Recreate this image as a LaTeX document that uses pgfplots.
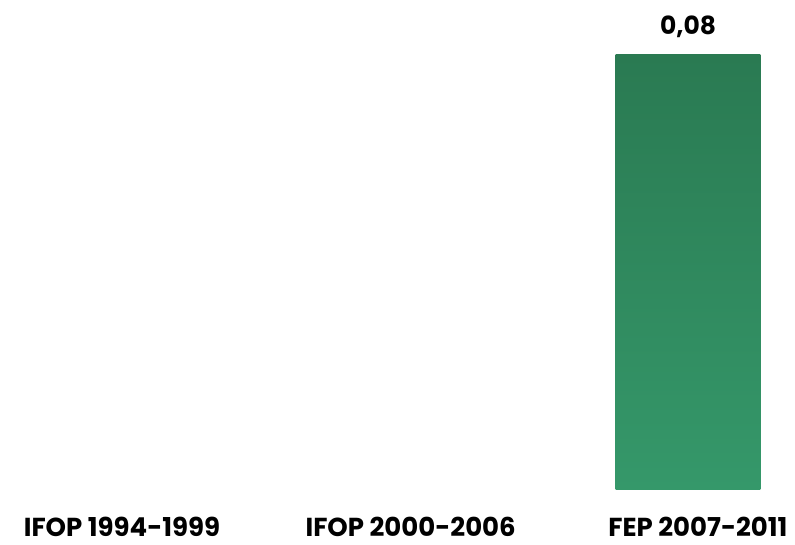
\documentclass[border=0pt]{standalone}
\usepackage{fontspec}
\setmainfont{Poppins}
\usepackage{pgfplots}
\pgfplotsset{compat=1.18}
\definecolor{bartop}{HTML}{2A7A52}
\definecolor{barbot}{HTML}{35986A}
\begin{document}
\begin{tikzpicture}
\useasboundingbox (0,-55pt) rectangle (795pt,489pt);
\begin{axis}[
  at={(0,0)}, anchor=south west,
  scale only axis, width=795pt, height=489pt,
  xmin=-0.431, xmax=2.378, ymin=0, ymax=0.0901,
  axis y line=none, axis x line*=bottom,
  x axis line style={draw=none}, xtick style={draw=none},
  xtick={0,1.02,2.035},
  xticklabels={IFOP 1994-1999, IFOP 2000-2006, FEP 2007-2011},
  xticklabel style={font=\fontsize{26}{26}\selectfont\bfseries, anchor=base, yshift=-43pt},
  ybar, bar width=0.512,
  point meta=explicit symbolic,
  nodes near coords,
  nodes near coords style={font=\fontsize{25}{25}\selectfont\bfseries, anchor=base, yshift=20pt},
  clip=false,
]
% only the last period has a value
\addplot[draw=none, top color=bartop, bottom color=barbot]
  coordinates {(2,0.08) [0,08]};
\end{axis}
\end{tikzpicture}
\end{document}
